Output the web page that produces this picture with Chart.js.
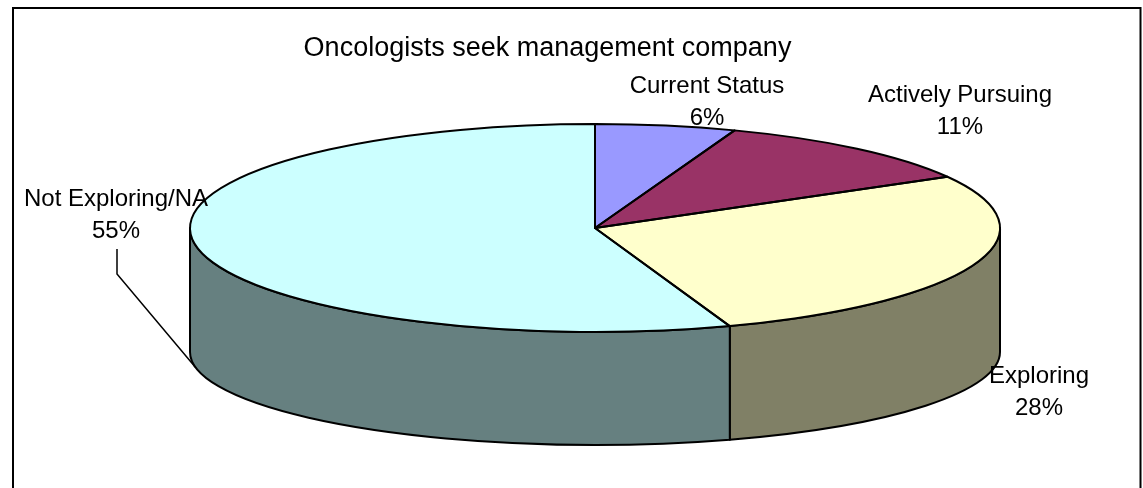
<!DOCTYPE html>
<html>
<head>
<meta charset="utf-8">
<script src="https://cdn.jsdelivr.net/npm/chart.js@4.4.1/dist/chart.umd.min.js"></script>
<style>
  body { margin: 0; background: #fff; }
  canvas { display: block; }
</style>
</head>
<body>
<canvas id="pieChart" width="1143" height="488"></canvas>
<script>
// data
const categories = ['Current Status', 'Actively Pursuing', 'Exploring', 'Not Exploring/NA'];
const shares = [5.6, 11.2, 27.8, 55.4];

// colours: top faces and the darker side walls
const topColors = ['#9999FF', '#993366', '#FFFFCC', '#CCFFFF'];
const sideColors = ['#4D4D80', '#4D1A33', '#808066', '#668080'];

// 3d pie geometry (top ellipse, bottom ellipse)
const CX = 595, CY = 228, RX = 405, RY = 104;
const BCY = 352, BRY = 93;

// label text centres (x, first baseline)
const labelPos = [[707, 93], [960, 102], [1039, 383], [116, 206]];
const LINE_GAP = 32;

function pctLabel(i){
  let total = 0;
  for (let j = 0; j < shares.length; j++) total += shares[j];
  return Math.round(shares[i] / total * 100) + '%';
}

// squash the library's round pie into the top ellipse
function applyTilt(ctx, arc){
  const r = arc.outerRadius;
  ctx.translate(CX, CY);
  ctx.scale(RX / r, RY / r);
  ctx.translate(-arc.x, -arc.y);
}

const tiltPlugin = {
  id: 'tilt3d',
  beforeDraw(chart){
    const ctx = chart.ctx;
    ctx.save();
    ctx.fillStyle = '#fff';
    ctx.fillRect(0, 0, chart.width, chart.height);
    ctx.strokeStyle = '#000';
    ctx.lineWidth = 2;
    ctx.strokeRect(13, 8, 1127.5, 500);
    ctx.restore();
  },
  beforeDatasetsDraw(chart){
    const ctx = chart.ctx;
    const arcs = chart.getDatasetMeta(0).data;
    // side walls, only the front half (0..PI) shows
    arcs.forEach(function(arc, i){
      const a1 = Math.max(arc.startAngle, 0);
      const a2 = Math.min(arc.endAngle, Math.PI);
      if (a2 <= a1) return;
      ctx.save();
      ctx.beginPath();
      ctx.ellipse(CX, CY, RX, RY, 0, a1, a2, false);
      ctx.lineTo(CX + RX * Math.cos(a2), BCY + BRY * Math.sin(a2));
      ctx.ellipse(CX, BCY, RX, BRY, 0, a2, a1, true);
      ctx.closePath();
      ctx.fillStyle = sideColors[i];
      ctx.fill();
      ctx.strokeStyle = '#000';
      ctx.lineWidth = 2;
      ctx.lineJoin = 'round';
      ctx.stroke();
      ctx.restore();
    });
    ctx.save();
    applyTilt(ctx, arcs[0]);
  },
  afterDatasetsDraw(chart){
    const ctx = chart.ctx;
    ctx.restore();
    const arcs = chart.getDatasetMeta(0).data;
    // outlines of top faces, built in tilted space, stroked in flat space
    arcs.forEach(function(arc){
      ctx.save();
      applyTilt(ctx, arc);
      ctx.beginPath();
      ctx.moveTo(arc.x, arc.y);
      ctx.arc(arc.x, arc.y, arc.outerRadius, arc.startAngle, arc.endAngle);
      ctx.closePath();
      ctx.restore();
      ctx.save();
      ctx.strokeStyle = '#000';
      ctx.lineWidth = 2;
      ctx.lineJoin = 'round';
      ctx.stroke();
      ctx.restore();
    });
  },
  afterDraw(chart){
    const ctx = chart.ctx;
    const arcs = chart.getDatasetMeta(0).data;
    ctx.save();
    ctx.fillStyle = '#000';
    ctx.font = '24px "Liberation Sans", Arial, sans-serif';
    ctx.textAlign = 'center';
    ctx.textBaseline = 'alphabetic';
    categories.forEach(function(name, i){
      ctx.fillText(name, labelPos[i][0], labelPos[i][1]);
      ctx.fillText(pctLabel(i), labelPos[i][0], labelPos[i][1] + LINE_GAP);
    });
    // leader line for the big slice, to its bottom rim
    const big = arcs[3];
    const mid = (big.startAngle + big.endAngle) / 2;
    const lx = labelPos[3][0] + 1;
    ctx.strokeStyle = '#000';
    ctx.lineWidth = 1.5;
    ctx.beginPath();
    ctx.moveTo(lx, labelPos[3][1] + LINE_GAP + 11);
    ctx.lineTo(lx, labelPos[3][1] + LINE_GAP + 36);
    ctx.lineTo(CX + RX * Math.cos(mid), BCY + BRY * Math.sin(mid));
    ctx.stroke();
    ctx.restore();
  }
};

const ctx = document.getElementById('pieChart');
const chart = new Chart(ctx, {
  type: 'pie',
  data: {
    labels: categories,
    datasets: [{
      data: shares,
      backgroundColor: topColors,
      borderWidth: 0,
      clip: false
    }]
  },
  options: {
    responsive: false,
    animation: false,
    layout: { padding: { left: 0, right: 48, top: 0, bottom: 10 } },
    plugins: {
      legend: { display: false },
      tooltip: { enabled: false },
      title: {
        display: true,
        text: 'Oncologists seek management company',
        color: '#000',
        font: { family: '"Liberation Sans", Arial, sans-serif', size: 27, weight: 'normal' },
        padding: { top: 32, bottom: 10 }
      }
    }
  },
  plugins: [tiltPlugin]
});
</script>
</body>
</html>
